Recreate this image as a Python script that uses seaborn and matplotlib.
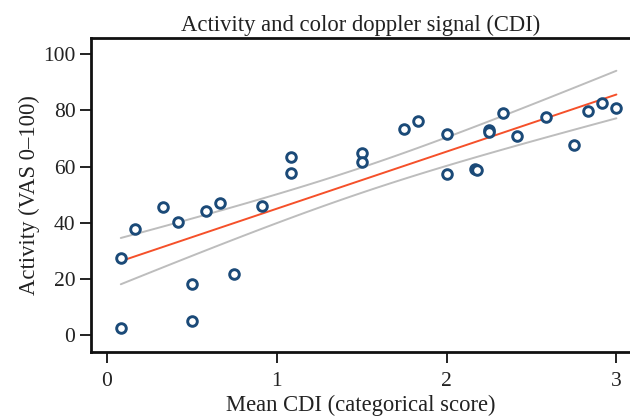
import numpy as np
import pandas as pd
import matplotlib
matplotlib.use("Agg")
import matplotlib.pyplot as plt
import seaborn as sns

# Data
mean_cdi = [0.083, 0.083, 0.167, 0.333, 0.417, 0.5, 0.5, 0.583, 0.667, 0.75,
            0.917, 1.083, 1.083, 1.5, 1.5, 1.75, 1.833, 2.0, 2.0, 2.167,
            2.182, 2.25, 2.25, 2.333, 2.417, 2.583, 2.75, 2.833, 2.917, 3.0]
activity = [27.6, 2.5, 37.7, 45.7, 40.4, 18.1, 5.2, 44.1, 47.0, 21.7,
            46.0, 63.5, 57.9, 64.9, 61.7, 73.5, 76.3, 71.5, 57.4, 59.1,
            58.8, 73.1, 72.5, 79.2, 70.8, 77.6, 67.6, 79.7, 82.6, 81.0]
x_ticks = [0, 1, 2, 3]
y_ticks = [0, 20, 40, 60, 80, 100]
title = "Activity and color doppler signal (CDI)"
x_label = "Mean CDI (categorical score)"
y_label = "Activity (VAS 0\u2013100)"

df = pd.DataFrame({"cdi": mean_cdi, "activity": activity})

sns.set_theme(style="ticks")
plt.rcParams["font.family"] = ["Liberation Serif", "DejaVu Serif"]

fig = plt.figure(figsize=(6.3, 4.2), dpi=100)
ax = fig.add_axes([0.144, 0.161, 0.856, 0.748])

# 95% confidence band of the regression mean, computed from the data
x = np.asarray(mean_cdi)
y = np.asarray(activity)
n = len(x)
b, a = np.polyfit(x, y, 1)
resid = y - (a + b * x)
s = np.sqrt(np.sum(resid ** 2) / (n - 2))
xg = np.linspace(x.min(), x.max(), 100)
se = s * np.sqrt(1.0 / n + (xg - x.mean()) ** 2 / np.sum((x - x.mean()) ** 2))
tval = 2.048
band = pd.DataFrame({"x": xg, "lo": a + b * xg - tval * se, "hi": a + b * xg + tval * se})
sns.lineplot(data=band, x="x", y="hi", ax=ax, color="#bdbdbd", lw=1.4)
sns.lineplot(data=band, x="x", y="lo", ax=ax, color="#bdbdbd", lw=1.4)

sns.regplot(data=df, x="cdi", y="activity", ax=ax, ci=None,
            scatter_kws=dict(s=48, facecolors="white", edgecolors="#1b4a78",
                             linewidths=2.1, alpha=1.0, zorder=3),
            line_kws=dict(color="#f5502a", lw=1.4, zorder=2))

ax.set_xlim(-0.094, 3.08)
ax.set_ylim(-6.05, 105.7)
ax.set_xticks(x_ticks)
ax.set_yticks(y_ticks)
ax.tick_params(axis="both", labelsize=15.5, length=8, width=1.4, color="#222222",
               labelcolor="#222222")
ax.tick_params(axis="x", pad=6)
ax.tick_params(axis="y", pad=3)
ax.set_xlabel(x_label, fontsize=16.3, color="#222222", labelpad=3)
ax.set_ylabel(y_label, fontsize=16.3, color="#222222", labelpad=2)
ax.set_title(title, fontsize=16.3, color="#222222", pad=5)
for side in ["left", "bottom", "top"]:
    ax.spines[side].set_linewidth(2.0)
    ax.spines[side].set_color("#111111")
ax.spines["right"].set_visible(False)

fig.savefig("out.png", dpi=100)
